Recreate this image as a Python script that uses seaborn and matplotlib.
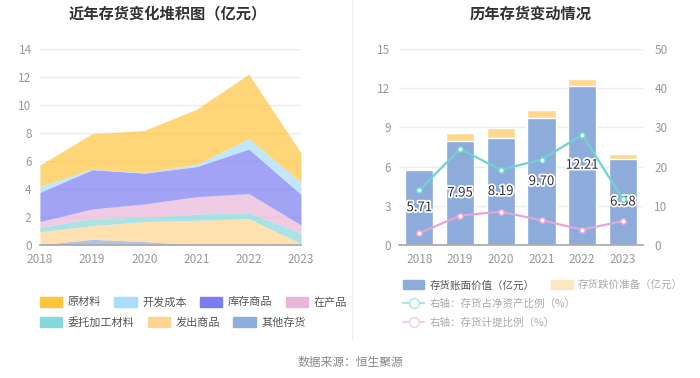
import numpy as np
import matplotlib
matplotlib.use('Agg')
import matplotlib.pyplot as plt
import matplotlib.patheffects as pe
import seaborn as sns
from matplotlib.patches import Patch
from matplotlib.lines import Line2D

# --- DATA ---
years = [2018, 2019, 2020, 2021, 2022, 2023]
year_labels = [str(y) for y in years]

# stacked layers (bottom -> top), 亿元
other_stock = [0.02, 0.40, 0.24, 0.00, 0.00, 0.00]     # 其他存货
shipped_goods = [0.93, 0.98, 1.43, 1.76, 1.88, 0.10]   # 发出商品
consigned_mat = [0.29, 0.52, 0.31, 0.45, 0.43, 0.73]   # 委托加工材料
wip = [0.43, 0.67, 0.95, 1.24, 1.36, 0.60]             # 在产品
finished_goods = [2.09, 2.81, 2.21, 2.15, 3.19, 2.19]  # 库存商品
dev_cost = [0.44, 0.05, 0.05, 0.16, 0.74, 0.86]        # 开发成本
raw_material = [1.51, 2.52, 3.00, 3.94, 4.61, 2.10]    # 原材料

# right chart
book_value = [5.71, 7.95, 8.19, 9.70, 12.21, 6.58]     # 存货账面价值
impairment = [0.13, 0.62, 0.74, 0.63, 0.49, 0.38]      # 存货跌价准备
pct_net_assets = [14.0, 24.5, 19.2, 21.8, 28.1, 11.7]  # 存货占净资产比例
pct_provision = [3.0, 7.5, 8.5, 6.3, 3.9, 6.1]         # 存货计提比例

layer_names = ['其他存货', '发出商品', '委托加工材料', '在产品', '库存商品', '开发成本', '原材料']
layer_colors = ['#8eacdc', '#ffd591', '#85d8dc', '#e9b5d9', '#7b7cf2', '#a8defc', '#ffc53d']

# --- STYLE ---
sns.set_theme(style='white')
plt.rcParams['font.family'] = ['Noto Sans CJK SC', 'DejaVu Sans']
plt.rcParams['axes.unicode_minus'] = False

GRID = '#e9ebf5'
TICK = '#999999'

fig = plt.figure(figsize=(7, 3.78), dpi=100)

# --- LEFT: stacked area ---
ax1 = fig.add_axes([0.057, 0.352, 0.373, 0.518])
layers = [other_stock, shipped_goods, consigned_mat, wip, finished_goods, dev_cost, raw_material]
ax1.stackplot(years, *layers, colors=layer_colors, alpha=0.7, linewidth=0)
ax1.set_xlim(2018, 2023)
ax1.set_ylim(0, 14)
ax1.set_yticks(range(0, 15, 2))
ax1.set_xticks(years)
ax1.set_xticklabels(year_labels)
ax1.grid(axis='y', color=GRID, linewidth=1)
ax1.set_axisbelow(True)
for s in ['left', 'right', 'top']:
    ax1.spines[s].set_visible(False)
ax1.spines['bottom'].set_color('#aaaaaa')
ax1.tick_params(axis='y', colors=TICK, labelsize=8.5, length=0, pad=6)
ax1.tick_params(axis='x', colors=TICK, labelsize=8.5, length=0, pad=6)

# --- RIGHT: bars + lines ---
ax2 = fig.add_axes([0.570, 0.352, 0.349, 0.518])
totals = [b + r for b, r in zip(book_value, impairment)]
sns.barplot(x=year_labels, y=totals, color='#ffd88f', saturation=1, width=0.69, ax=ax2)
sns.barplot(x=year_labels, y=book_value, color='#8dabdb', saturation=1, width=0.69, ax=ax2)
ax2.set_ylim(0, 15)
ax2.set_yticks(range(0, 16, 3))
ax2.set_xlim(-0.5, 5.5)
ax2.grid(axis='y', color=GRID, linewidth=1)
ax2.set_axisbelow(True)
for s in ['left', 'right', 'top']:
    ax2.spines[s].set_visible(False)
ax2.spines['bottom'].set_color('#aaaaaa')
ax2.tick_params(axis='y', colors=TICK, labelsize=8.5, length=0, pad=6)
ax2.tick_params(axis='x', colors='#aaaaaa', labelcolor=TICK, labelsize=8.5, length=3, pad=3)
ax2.set_xlabel('')
ax2.set_ylabel('')

for i, v in enumerate(book_value):
    ax2.text(i, v / 2, f'{v:.2f}', ha='center', va='center', fontsize=9.5,
             color='#333333', zorder=6,
             path_effects=[pe.withStroke(linewidth=2.5, foreground='white')])

ax3 = ax2.twinx()
xpos = np.arange(len(years))
sns.lineplot(x=xpos, y=pct_net_assets, color='#6fd3d2', linewidth=1.6, marker='o',
             markersize=4, markerfacecolor='white', markeredgecolor='#6fd3d2',
             markeredgewidth=1.2, ax=ax3)
sns.lineplot(x=xpos, y=pct_provision, color='#e2a6d8', linewidth=1.6, marker='o',
             markersize=4, markerfacecolor='white', markeredgecolor='#e2a6d8',
             markeredgewidth=1.2, ax=ax3)
ax3.set_ylim(0, 50)
ax3.set_yticks(range(0, 51, 10))
ax3.set_xlim(-0.5, 5.5)
for s in ['left', 'right', 'top', 'bottom']:
    ax3.spines[s].set_visible(False)
ax3.tick_params(axis='y', colors=TICK, labelsize=8.5, length=0, pad=8)
ax3.grid(False)
ax3.set_ylabel('')

# --- TITLES ---
fig.text(0.24, 0.965, '近年存货变化堆积图（亿元）', ha='center', va='center',
         fontsize=11, fontweight='bold', color='#333333')
fig.text(0.758, 0.965, '历年存货变动情况', ha='center', va='center',
         fontsize=11, fontweight='bold', color='#333333')
fig.add_artist(Line2D([0.503, 0.503], [0.1, 1.0], transform=fig.transFigure,
                      color='#eeeeee', linewidth=0.8))

# --- LEGENDS ---
legend_kw = dict(frameon=False, handlelength=2.0, handleheight=1.0,
                 handletextpad=0.5, borderaxespad=0, borderpad=0)
row1 = [('原材料', '#ffc53d'), ('开发成本', '#a8defc'), ('库存商品', '#7b7cf2'), ('在产品', '#e9b5d9')]
row2 = [('委托加工材料', '#85d8dc'), ('发出商品', '#ffd591'), ('其他存货', '#8eacdc')]
lg1 = fig.legend(handles=[Patch(color=c, label=n) for n, c in row1], ncol=4,
                 loc='center left', bbox_to_anchor=(0.057, 0.201), columnspacing=1.2,
                 labelcolor='#555555', fontsize=8, **legend_kw)
lg2 = fig.legend(handles=[Patch(color=c, label=n) for n, c in row2], ncol=3,
                 loc='center left', bbox_to_anchor=(0.057, 0.148), columnspacing=1.2,
                 labelcolor='#555555', fontsize=8, **legend_kw)

bar_handles = [Patch(color='#8dabdb', label='存货账面价值（亿元）'),
               Patch(color='#ffe6c2', label='存货跌价准备（亿元）')]
lg3 = fig.legend(handles=bar_handles, ncol=2, loc='center left',
                 bbox_to_anchor=(0.576, 0.246), columnspacing=1.6, fontsize=7.6,
                 **legend_kw)
lg3.get_texts()[0].set_color('#555555')
lg3.get_texts()[1].set_color('#aaaaaa')

line_handles = [Line2D([], [], color='#a6e6e6', marker='o', markersize=7,
                       markerfacecolor='white', markeredgecolor='#a6e6e6',
                       label='右轴：存货占净资产比例（%）'),
                Line2D([], [], color='#f0cde9', marker='o', markersize=7,
                       markerfacecolor='white', markeredgecolor='#f0cde9',
                       label='右轴：存货计提比例（%）')]
lg4 = fig.legend(handles=line_handles, ncol=1, loc='upper left',
                 bbox_to_anchor=(0.576, 0.210), labelspacing=0.8, fontsize=7.6,
                 labelcolor='#aaaaaa', **legend_kw)

fig.text(0.5, 0.042, '数据来源：恒生聚源', ha='center', va='center',
         fontsize=8.5, color='#888888')

fig.savefig('out.png', dpi=100, facecolor='white')
